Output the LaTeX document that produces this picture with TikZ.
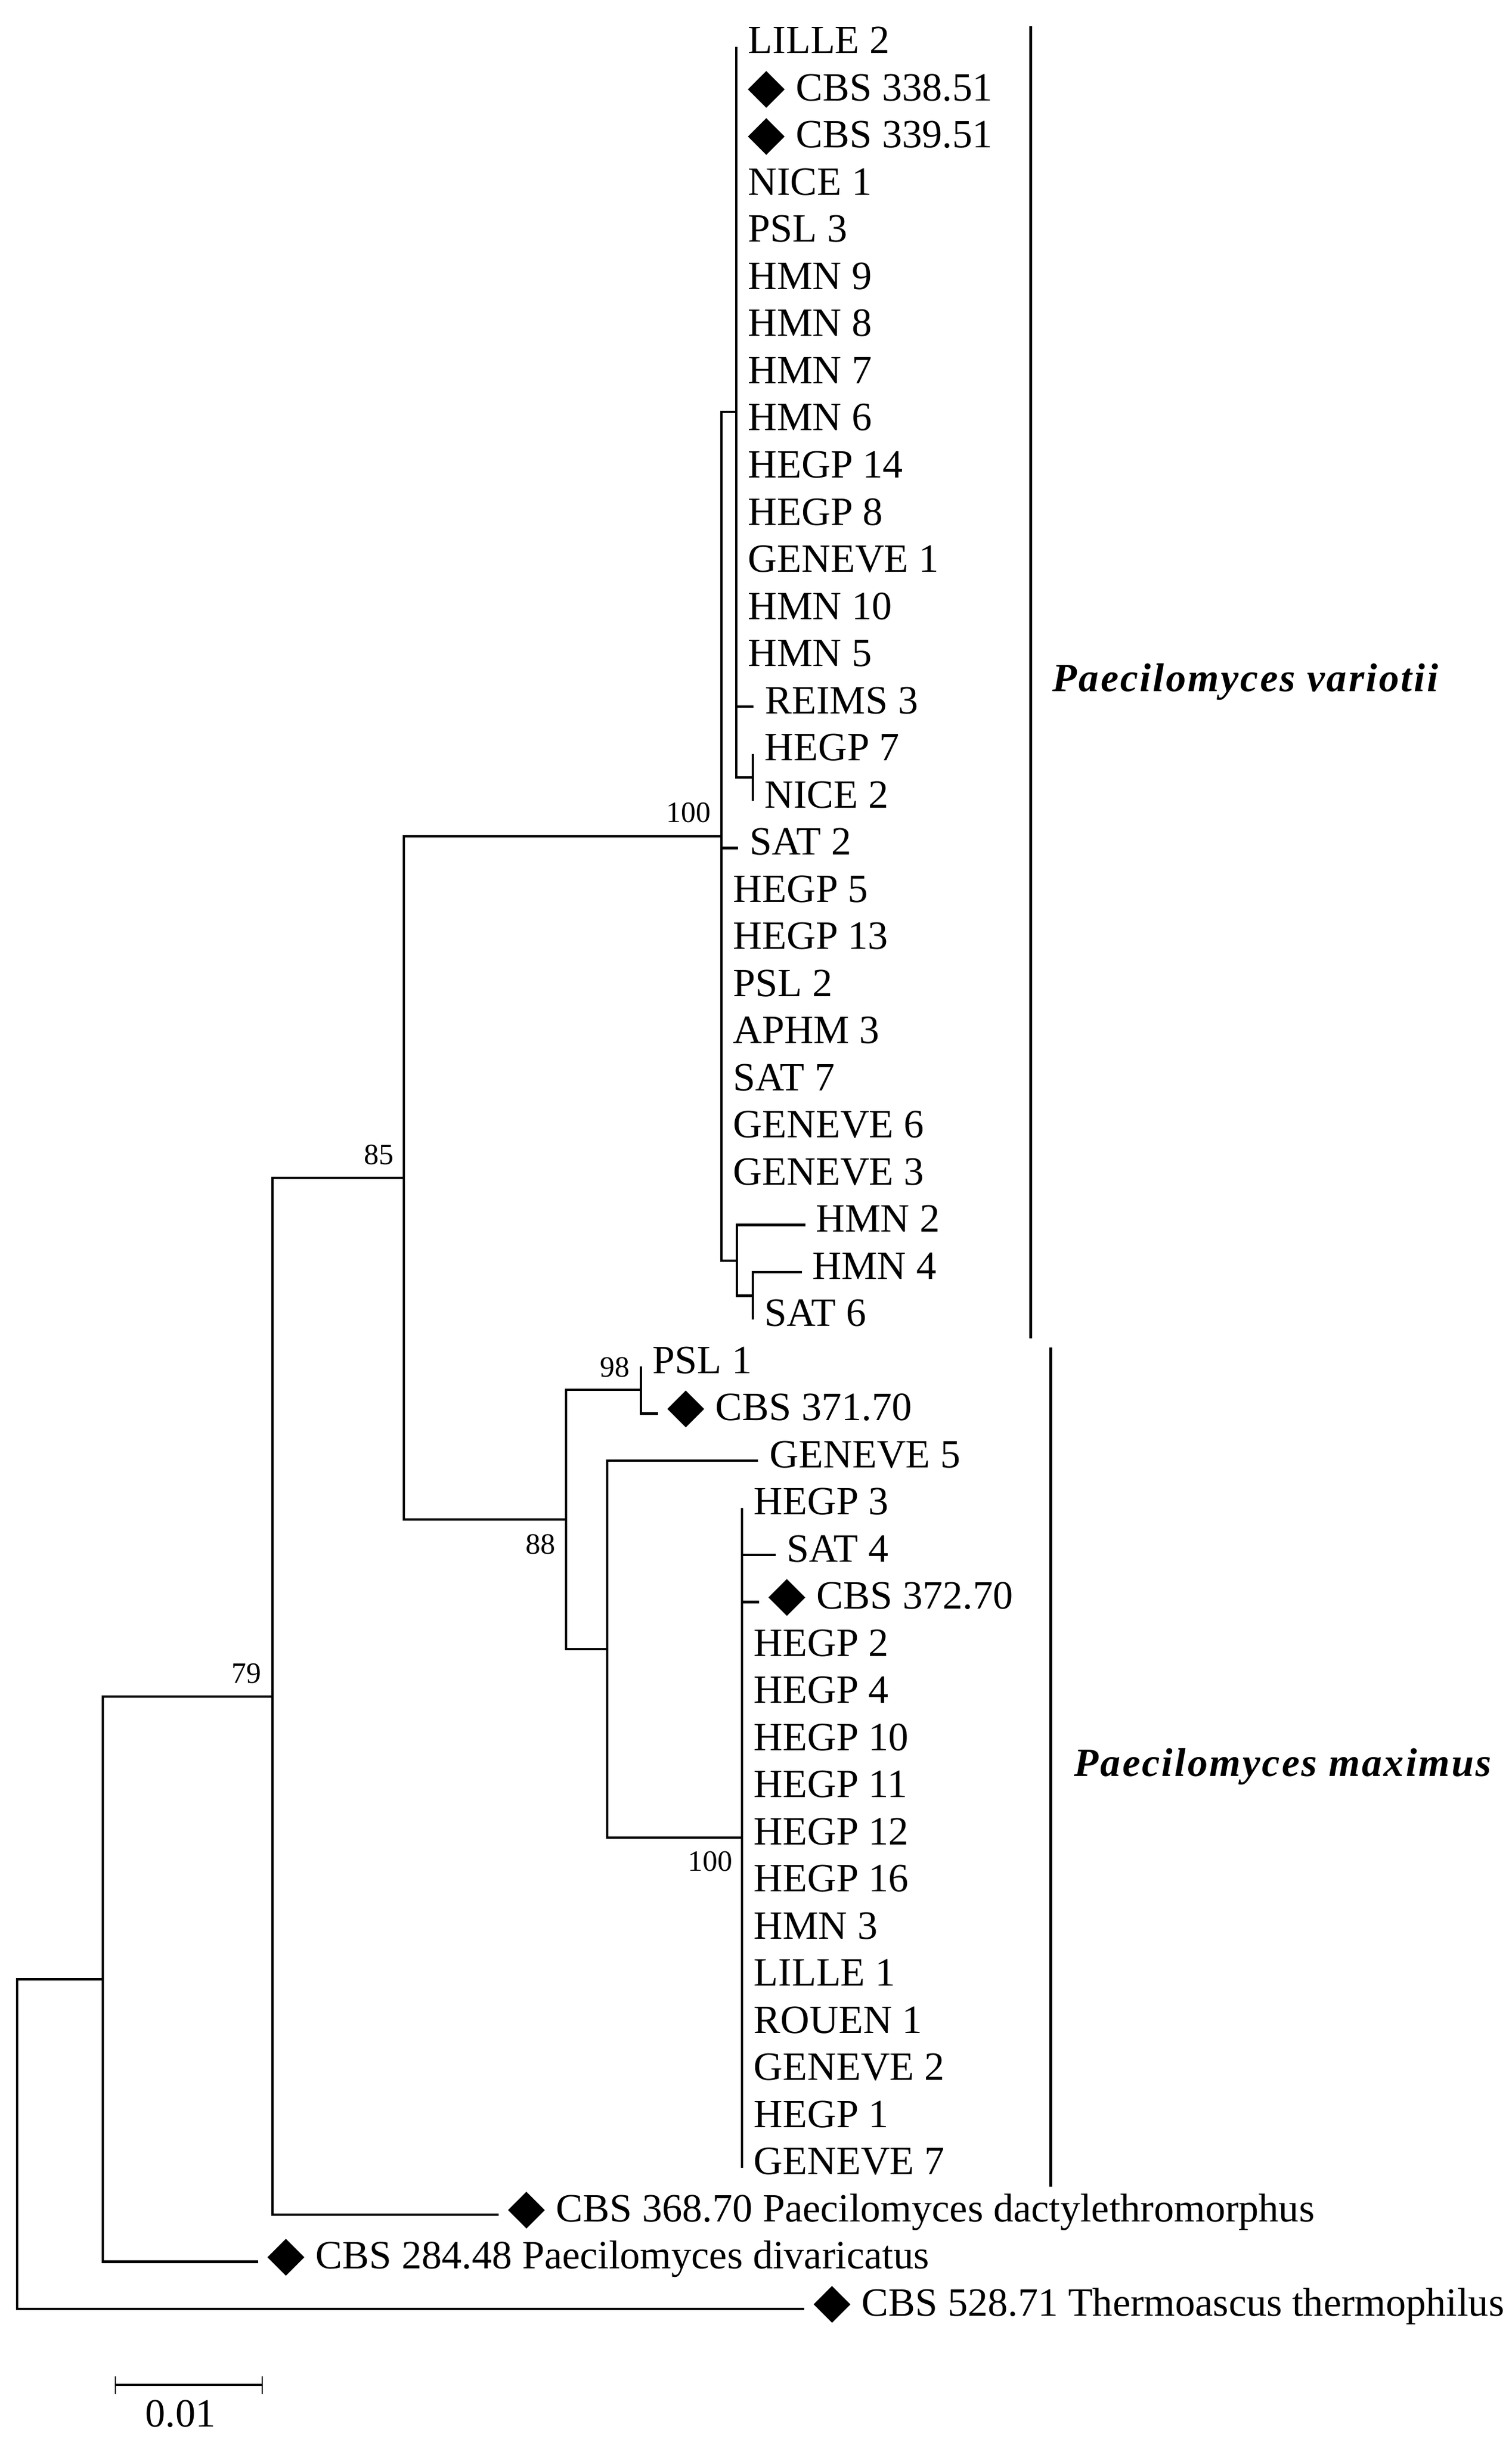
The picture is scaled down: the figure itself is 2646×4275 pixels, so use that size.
\documentclass[tikz,border=0pt]{standalone}
\usepackage{fontspec}
\setmainfont{Liberation Serif}
\newfontfamily\cladefont[LetterSpace=4.5]{Liberation Serif}
\usetikzlibrary{shapes.geometric}

\tikzset{
  branch/.style={line width=0.45mm},
  cladebar/.style={line width=0.5mm},
  leaf/.style={anchor=base west, inner sep=0pt, font=\fontsize{20}{24}\selectfont},
  cbs/.style={diamond, fill=black, inner sep=0pt, minimum size=6.5mm},
  boot/.style={inner sep=0pt, font=\fontsize{14.7}{17}\selectfont},
  cladename/.style={anchor=west, inner sep=0pt, font=\cladefont\fontsize{20}{24}\selectfont\bfseries\itshape},
}

\begin{document}
\begin{tikzpicture}[x=0.1mm,y=-0.1mm]
\useasboundingbox (0,0) rectangle (2646,4275);

% inner nodes of the tree
\coordinate (root) at (30,3753.5);
\coordinate (n1) at (180,3465);
\coordinate (n2) at (477,2970);
\coordinate (n3) at (707,2062);
\coordinate (pv) at (1263,1464);
\coordinate (na) at (1289,721);
\coordinate (nc) at (1318,1361);
\coordinate (b1) at (1290,2207);
\coordinate (b2) at (1318,2268.5);
\coordinate (n5) at (991,2660);
\coordinate (n4) at (1122,2433);
\coordinate (n6) at (1063,2887);
\coordinate (n7) at (1299,3217);

% branch ends
\coordinate (lille2tip) at (1289,82);
\coordinate (reims3tip) at (1319,1237);
\coordinate (hegp7tip) at (1318,1319.5);
\coordinate (nice2tip) at (1318,1402);
\coordinate (sat2tip) at (1292,1484.5);
\coordinate (hmn2tip) at (1410,2144.5);
\coordinate (hmn4tip) at (1404,2227);
\coordinate (sat6tip) at (1318,2309.5);
\coordinate (psl1tip) at (1122,2392);
\coordinate (cbs371tip) at (1152,2474.5);
\coordinate (gen5tip) at (1327,2557);
\coordinate (hegp3tip) at (1299,2639.5);
\coordinate (sat4tip) at (1358,2722);
\coordinate (cbs372tip) at (1329,2804.5);
\coordinate (gen7tip) at (1299,3794.5);
\coordinate (cbs368tip) at (873,3877);
\coordinate (cbs284tip) at (452,3959.5);
\coordinate (cbs528tip) at (1408,4042);

% branches
\draw[branch] (root) |- (n1);
\draw[branch] (root) |- (cbs528tip);
\draw[branch] (n1) |- (n2);
\draw[branch] (n1) |- (cbs284tip);
\draw[branch] (n2) |- (n3);
\draw[branch] (n2) |- (cbs368tip);
\draw[branch] (n3) |- (pv);
\draw[branch] (n3) |- (n5);
\draw[branch] (pv) |- (na);
\draw[branch] (pv) |- (b1);
\draw[branch] (pv) |- (sat2tip);
\draw[branch] (lille2tip) |- (nc);
\draw[branch] (na) |- (reims3tip);
\draw[branch] (hegp7tip) -- (nice2tip);
\draw[branch] (b1) |- (hmn2tip);
\draw[branch] (b1) |- (b2);
\draw[branch] (b2) |- (hmn4tip);
\draw[branch] (b2) |- (sat6tip);
\draw[branch] (n5) |- (n4);
\draw[branch] (n5) |- (n6);
\draw[branch] (n4) |- (psl1tip);
\draw[branch] (n4) |- (cbs371tip);
\draw[branch] (n6) |- (gen5tip);
\draw[branch] (n6) |- (n7);
\draw[branch] (hegp3tip) -- (gen7tip);
\draw[branch] (n7) |- (sat4tip);
\draw[branch] (n7) |- (cbs372tip);

% bootstrap values
\node[boot, anchor=base east] (bpv) at ([xshift=-1.8mm,yshift=2.5mm]pv) {100};
\node[boot, anchor=base east] (bn3) at ([xshift=-1.7mm,yshift=2.4mm]n3) {85};
\node[boot, anchor=base east] (bn2) at ([xshift=-1.9mm,yshift=2.4mm]n2) {79};
\node[boot, anchor=base east] (bn4) at ([xshift=-1.9mm,yshift=2.3mm]n4) {98};
\node[boot, anchor=north east] (bn5) at ([xshift=-1.8mm,yshift=-2.5mm]n5) {88};
\node[boot, anchor=north east] (bn7) at ([xshift=-1.6mm,yshift=-2.3mm]n7) {100};

% Paecilomyces variotii
\node[leaf] (lille2) at (1309,94) {LILLE 2};
\node[cbs] (m338) at (1341.5,156.5) {};
\node[leaf] (cbs338) at (1393,176.5) {CBS 338.51};
\node[cbs] (m339) at (1341.5,239) {};
\node[leaf] (cbs339) at (1393,259) {CBS 339.51};
\node[leaf] (nice1) at (1309,341.5) {NICE 1};
\node[leaf] (psl3) at (1309,424) {PSL 3};
\node[leaf] (hmn9) at (1309,506.5) {HMN 9};
\node[leaf] (hmn8) at (1309,589) {HMN 8};
\node[leaf] (hmn7) at (1309,671.5) {HMN 7};
\node[leaf] (hmn6) at (1309,754) {HMN 6};
\node[leaf] (hegp14) at (1309,836.5) {HEGP 14};
\node[leaf] (hegp8) at (1309,919) {HEGP 8};
\node[leaf] (geneve1) at (1309,1001.5) {GENEVE 1};
\node[leaf] (hmn10) at (1309,1084) {HMN 10};
\node[leaf] (hmn5) at (1309,1166.5) {HMN 5};
\node[leaf] (reims3) at (1339,1249) {REIMS 3};
\node[leaf] (hegp7) at (1338,1331.5) {HEGP 7};
\node[leaf] (nice2) at (1338,1414) {NICE 2};
\node[leaf] (sat2) at (1312,1496.5) {SAT 2};
\node[leaf] (hegp5) at (1283,1579) {HEGP 5};
\node[leaf] (hegp13) at (1283,1661.5) {HEGP 13};
\node[leaf] (psl2) at (1283,1744) {PSL 2};
\node[leaf] (aphm3) at (1283,1826.5) {APHM 3};
\node[leaf] (sat7) at (1283,1909) {SAT 7};
\node[leaf] (geneve6) at (1283,1991.5) {GENEVE 6};
\node[leaf] (geneve3) at (1283,2074) {GENEVE 3};
\node[leaf] (hmn2) at (1428,2156.5) {HMN 2};
\node[leaf] (hmn4) at (1422,2239) {HMN 4};
\node[leaf] (sat6) at (1338,2321.5) {SAT 6};

% Paecilomyces maximus
\node[leaf] (psl1) at (1142,2404) {PSL 1};
\node[cbs] (m371) at (1200.5,2466.5) {};
\node[leaf] (cbs371) at (1252,2486.5) {CBS 371.70};
\node[leaf] (geneve5) at (1347,2569) {GENEVE 5};
\node[leaf] (hegp3) at (1319,2651.5) {HEGP 3};
\node[leaf] (sat4) at (1377,2734) {SAT 4};
\node[cbs] (m372) at (1377.5,2796.5) {};
\node[leaf] (cbs372) at (1429,2816.5) {CBS 372.70};
\node[leaf] (hegp2) at (1319,2899) {HEGP 2};
\node[leaf] (hegp4) at (1319,2981.5) {HEGP 4};
\node[leaf] (hegp10) at (1319,3064) {HEGP 10};
\node[leaf] (hegp11) at (1319,3146.5) {HEGP 11};
\node[leaf] (hegp12) at (1319,3229) {HEGP 12};
\node[leaf] (hegp16) at (1319,3311.5) {HEGP 16};
\node[leaf] (hmn3) at (1319,3394) {HMN 3};
\node[leaf] (lille1) at (1319,3476.5) {LILLE 1};
\node[leaf] (rouen1) at (1319,3559) {ROUEN 1};
\node[leaf] (geneve2) at (1319,3641.5) {GENEVE 2};
\node[leaf] (hegp1) at (1319,3724) {HEGP 1};
\node[leaf] (geneve7) at (1319,3806.5) {GENEVE 7};

% outgroups
\node[cbs] (m368) at (921.5,3869) {};
\node[leaf] (cbs368) at (973,3889) {CBS 368.70 Paecilomyces dactylethromorphus};
\node[cbs] (m284) at (500.5,3951.5) {};
\node[leaf] (cbs284) at (552,3971.5) {CBS 284.48 Paecilomyces divaricatus};
\node[cbs] (m528) at (1456.5,4034) {};
\node[leaf] (cbs528) at (1508,4054) {CBS 528.71 Thermoascus thermophilus};

% clade bars
\draw[cladebar] (1804,46) -- (1804,2343);
\node[cladename] (pvname) at (1842,1194) {Paecilomyces variotii};
\draw[cladebar] (1839,2359) -- (1839,3828);
\node[cladename] (pmname) at (1880,3093) {Paecilomyces maximus};

% scale
\coordinate (sbl) at (202,4175);
\coordinate (sbr) at (459,4175);
\draw[branch] (sbl) -- (sbr);
\draw[line width=0.25mm] ([yshift=1.5mm]sbl) -- ([yshift=-1.6mm]sbl);
\draw[line width=0.25mm] ([yshift=1.5mm]sbr) -- ([yshift=-1.6mm]sbr);
\node[leaf, anchor=north] (sblabel) at (316,4201) {0.01};

\end{tikzpicture}
\end{document}
